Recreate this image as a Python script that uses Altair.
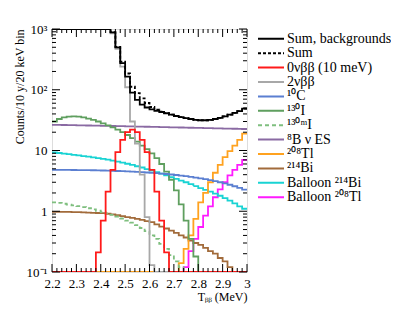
import altair as alt
import pandas as pd

# ---- data -------------------------------------------------------------
bin_lo = [round(2.20 + 0.02 * i, 2) for i in range(40)]   # left edges of 20 keV bins
x_last = 3.00

names = ["Sum, backgrounds", "Sum", "0νββ (10 meV)", "2νββ", "¹⁰C", "¹³⁰I",
         "¹³⁰ᵐI", "⁸B ν ES", "²⁰⁸Tl", "²¹⁴Bi", "Balloon ²¹⁴Bi", "Balloon ²⁰⁸Tl"]
colors = ["#000000", "#000000", "#ff1a1a", "#a8a8a8", "#5b7fd1", "#5f9f5f",
          "#7fbf7f", "#8a6aa3", "#ffa21f", "#a26b3b", "#19d3d3", "#ff1aff"]
dashes = [[1, 0], [3, 2], [1, 0], [1, 0], [1, 0], [1, 0],
          [4, 3], [1, 0], [1, 0], [1, 0], [1, 0], [1, 0]]

sum_bkg = [60000, 45000, 33000, 24000, 17000, 12000, 8000, 5500, 3700, 2500, 1700, 1150,
           880, 500, 275, 165, 90, 68, 57, 51, 47.5,
           45, 43, 41, 39, 37,
           35.5, 34, 33, 32, 31.5,
           31.5, 32, 33, 34.5, 36.5,
           39, 41.5, 44.5, 49]
sum_all = [60000, 45000, 33000, 24000, 17000, 12000, 8000, 5500, 3700, 2500, 1700, 1150,
           885, 509, 290, 185, 112, 88, 72, 60.5, 52,
           47, 43.7, 41.2, 39, 37,
           35.5, 34, 33, 32, 31.5,
           31.5, 32, 33, 34.5, 36.5,
           39, 41.5, 44.5, 49]
signal = [0, 0, 0, 0, 0, 0, 0, 0, 0,
          0.21, 0.7, 2.1, 4.8, 9.4, 15, 20, 22, 20, 15, 9.4, 4.8, 2.1, 0.7, 0.21,
          0, 0, 0, 0, 0, 0, 0, 0, 0, 0, 0, 0, 0, 0, 0, 0]
two_nu = [55000, 41000, 30000, 22000, 15500, 11000, 7300, 5000, 3400, 2300, 1550, 1100,
          850, 470, 240, 110, 30, 13, 4, 0.8, 0.13,
          0, 0, 0, 0, 0, 0, 0, 0, 0, 0, 0, 0, 0, 0, 0, 0, 0, 0, 0]
c10 = [4.80, 4.80, 4.80, 4.79, 4.78, 4.77, 4.76, 4.75, 4.73, 4.71,
       4.69, 4.66, 4.63, 4.60, 4.56, 4.52, 4.48, 4.44, 4.39, 4.34,
       4.29, 4.23, 4.17, 4.10, 4.03, 3.95, 3.87, 3.78, 3.69, 3.59,
       3.48, 3.37, 3.25, 3.13, 3.00, 2.87, 2.73, 2.58, 2.43, 2.27]
i130 = [30, 33, 35, 36, 36.5, 36, 35, 33.5, 32, 30,
        28, 26, 24, 22, 20, 18, 16, 14, 12, 10.5,
        9, 7.5, 6, 4.5, 3.3, 2.2, 1.3, 0.7, 0.35, 0.18,
        0, 0, 0, 0, 0, 0, 0, 0, 0, 0]
i130m = [1.40, 1.37, 1.33, 1.29, 1.25, 1.21, 1.17, 1.12, 1.07, 1.02,
         0.97, 0.92, 0.87, 0.82, 0.76, 0.70, 0.65, 0.59, 0.53, 0.47,
         0.40, 0.35, 0.29, 0.24, 0.19, 0.15, 0.12, 0, 0, 0,
         0, 0, 0, 0, 0, 0, 0, 0, 0, 0]
b8 = [26.5, 26.4, 26.3, 26.2, 26.1, 26.0, 25.9, 25.8, 25.7, 25.6,
      25.5, 25.4, 25.3, 25.2, 25.1, 25.0, 24.9, 24.8, 24.7, 24.6,
      24.5, 24.4, 24.3, 24.2, 24.1, 24.0, 23.9, 23.8, 23.7, 23.6,
      23.5, 23.4, 23.3, 23.2, 23.1, 23.0, 22.9, 22.8, 22.7, 22.6]
tl208 = [0] * 26 + [0.14, 0.24, 0.4, 0.75, 1.4, 2.0, 3.0, 4.3, 5.8, 7.8, 9.8, 12, 15, 19]
bi214 = [0.98, 0.98, 0.98, 0.98, 0.97, 0.97, 0.96, 0.95, 0.94, 0.935,
         0.93, 0.91, 0.89, 0.86, 0.83, 0.80, 0.78, 0.75, 0.72, 0.69,
         0.66, 0.61, 0.56, 0.52, 0.48, 0.44, 0.40, 0.37, 0.33, 0.30,
         0.28, 0.25, 0.22, 0.20, 0.17, 0.15, 0.12, 0, 0, 0]
balloon_bi = [9.3, 9.1, 8.9, 8.7, 8.5, 8.3, 8.1, 7.9, 7.7, 7.5,
              7.3, 7.05, 6.8, 6.55, 6.3, 6.05, 5.8, 5.5, 5.25, 4.95,
              4.65, 4.4, 4.15, 3.9, 3.65, 3.4, 3.2, 3.0, 2.8, 2.6,
              2.4, 2.25, 2.1, 1.95, 1.8, 1.65, 1.5, 1.35, 1.2, 1.1]
balloon_tl = [0] * 27 + [0.12, 0.22, 0.35, 0.55, 0.85, 1.2, 1.7, 2.3, 3.0, 3.9, 4.8, 5.8, 7.0]

series_values = {
    "Sum, backgrounds": sum_bkg, "Sum": sum_all, "0νββ (10 meV)": signal,
    "2νββ": two_nu, "¹⁰C": c10, "¹³⁰I": i130, "¹³⁰ᵐI": i130m, "⁸B ν ES": b8,
    "²⁰⁸Tl": tl208, "²¹⁴Bi": bi214, "Balloon ²¹⁴Bi": balloon_bi, "Balloon ²⁰⁸Tl": balloon_tl,
}
draw_order = ["Balloon ²⁰⁸Tl", "Balloon ²¹⁴Bi", "²¹⁴Bi", "²⁰⁸Tl", "⁸B ν ES", "¹³⁰ᵐI",
              "¹³⁰I", "¹⁰C", "2νββ", "0νββ (10 meV)", "Sum", "Sum, backgrounds"]

x_major = [2.2, 2.3, 2.4, 2.5, 2.6, 2.7, 2.8, 2.9, 3.0]
x_minor = [round(2.2 + 0.02 * i, 2) for i in range(41) if i % 5 != 0]
y_major = [0.1, 1, 10, 100, 1000]
y_minor = [round(m * d, 3) for d in (0.1, 1, 10, 100) for m in range(2, 10)]

FLOOR = 0.01  # empty bins are drawn on the lower frame edge
rows = []
for s in draw_order:
    vals = series_values[s]
    assert len(vals) == 40, s
    for x, v in zip(bin_lo + [x_last], vals + [vals[-1]]):
        rows.append({"x": x, "y": max(v, FLOOR), "s": s})
df = pd.DataFrame(rows)

FONT = "Liberation Serif"
W, H = 195, 243

xscale = alt.Scale(domain=[2.2, 3.0], nice=False, zero=False)
yscale = alt.Scale(type="log", domain=[0.1, 1000], nice=False, clamp=True)

legend = alt.Legend(orient="none", legendX=205, legendY=3, title=None,
                    symbolType="stroke", symbolSize=676, symbolStrokeWidth=2,
                    labelFont=FONT, labelFontSize=14, labelColor="black",
                    rowPadding=-0.6, clipHeight=13.6, labelOffset=2, labelLimit=300)

ylab = ("datum.value >= 999 ? '10³' : datum.value >= 99 ? '10²' : "
        "datum.value >= 9 ? '10' : datum.value >= 0.9 ? '1' : '10⁻¹'")
xlab = "datum.value > 2.99 ? '3' : format(datum.value, '.1f')"

xaxis = alt.Axis(orient="bottom", values=x_major, labelExpr=xlab, ticks=False,
                 domain=False, grid=False, labelFont=FONT, labelFontSize=13,
                 labelColor="black", labelPadding=5, labelOverlap=False, labelFlush=False,
                 title="Tᵦᵦ (MeV)", titleAnchor="end", titleFont=FONT,
                 titleFontSize=12, titleFontWeight="normal", titleColor="black",
                 titlePadding=1)
yaxis = alt.Axis(orient="left", values=y_major, labelExpr=ylab, ticks=False,
                 domain=False, grid=False, labelFont=FONT, labelFontSize=13,
                 labelColor="black", labelPadding=5, labelOverlap=False, labelFlush=False,
                 title="Counts/10 y/20 keV bin", titleAnchor="end", titleFont=FONT,
                 titleFontSize=12, titleFontWeight="normal", titleColor="black",
                 titlePadding=0)

layers = []
for s in draw_order:
    sub = df[df.s == s]
    enc = dict(
        x=alt.X("x:Q", scale=xscale, axis=xaxis, title="Tᵦᵦ (MeV)"),
        y=alt.Y("y:Q", scale=yscale, axis=yaxis, title="Counts/10 y/20 keV bin"),
        color=alt.Color("s:N", scale=alt.Scale(domain=names, range=colors), legend=legend),
        strokeDash=alt.StrokeDash("s:N", scale=alt.Scale(domain=names, range=dashes),
                                  legend=legend),
    )
    layers.append(alt.Chart(sub).mark_line(interpolate="step-after", strokeWidth=1.8,
                                           clip=True).encode(**enc))

# inward ticks on all four sides
def xticks(vals, size, top):
    d = pd.DataFrame({"x": vals})
    y0, y1 = (0, size) if top else (H, H - size)
    return alt.Chart(d).mark_rule(color="black", strokeWidth=1).encode(
        x=alt.X("x:Q", scale=xscale, axis=xaxis, title="Tᵦᵦ (MeV)"),
        y=alt.value(y0), y2=alt.value(y1))


def yticks(vals, size, right):
    d = pd.DataFrame({"y": vals})
    x0, x1 = (W, W - size) if right else (0, size)
    return alt.Chart(d).mark_rule(color="black", strokeWidth=1).encode(
        y=alt.Y("y:Q", scale=yscale, axis=yaxis, title="Counts/10 y/20 keV bin"),
        x=alt.value(x0), x2=alt.value(x1))


ticks = [xticks(x_major, 8, False), xticks(x_minor, 4, False),
         xticks(x_major, 8, True), xticks(x_minor, 4, True),
         yticks(y_major, 8, False), yticks(y_minor, 4, False),
         yticks(y_major, 8, True), yticks(y_minor, 4, True)]

chart = alt.layer(*layers, *ticks).properties(
    width=W, height=H, autosize="none",
    padding={"left": 44, "top": 21, "right": 144, "bottom": 37},
).configure_view(stroke="black", strokeWidth=1.2).configure(background="white")

chart.save("out.html", embed_options={"renderer": "svg", "actions": False})
